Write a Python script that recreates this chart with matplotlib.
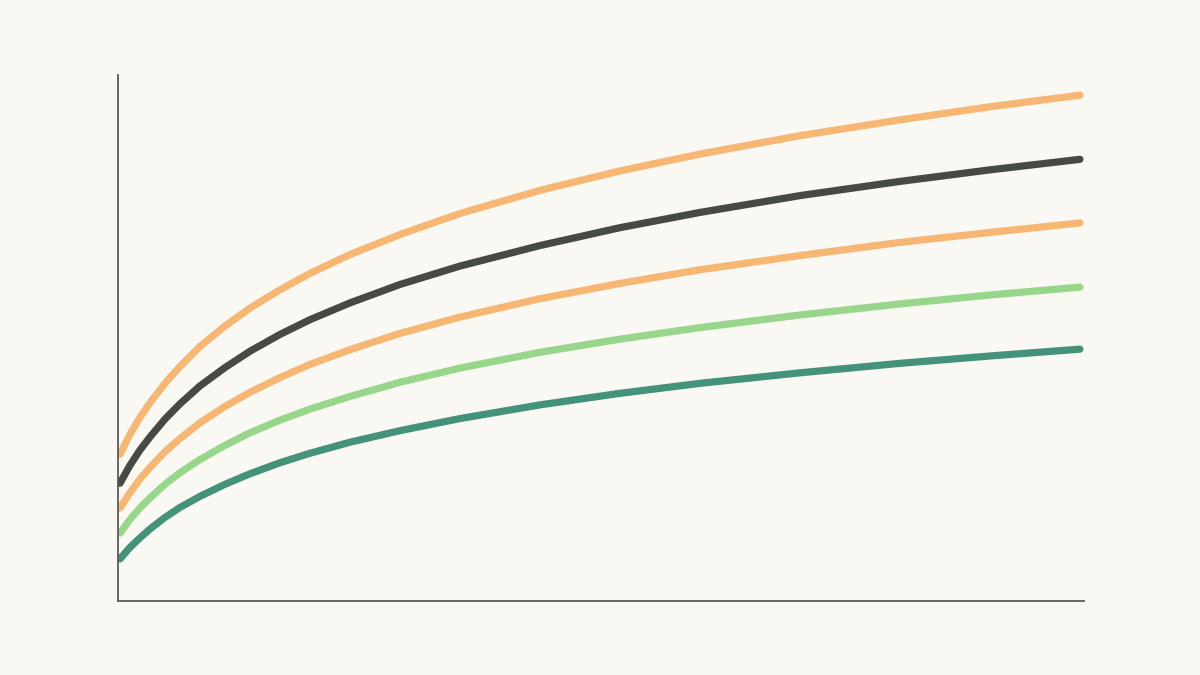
import matplotlib
matplotlib.use("Agg")
import matplotlib.pyplot as plt

# values (x from 0 to 100, y from 0 to 100)
x = [0, 1.04, 2.08, 3.13, 4.69, 6.25, 8.33, 10.94, 13.54, 16.67, 19.79,
     23.96, 29.17, 35.42, 43.75, 52.08, 60.42, 70.83, 81.25, 90.63, 100]
orange_top = [27.9, 31.7, 34.9, 37.7, 41.4, 44.6, 48.4, 52.3, 55.7, 59.2, 62.3,
              65.9, 69.7, 73.7, 78.1, 81.8, 85.0, 88.5, 91.5, 94.0, 96.2]
dark = [22.4, 25.8, 28.7, 31.2, 34.6, 37.5, 40.9, 44.4, 47.5, 50.7, 53.5,
        56.7, 60.2, 63.7, 67.6, 71.0, 73.9, 77.1, 79.8, 82.0, 84.0]
orange_mid = [17.7, 20.6, 23.2, 25.4, 28.4, 30.9, 33.9, 37.0, 39.7, 42.5, 45.0,
              47.8, 50.9, 54.0, 57.5, 60.4, 63.0, 65.7, 68.2, 70.1, 71.9]
green_light = [12.9, 15.5, 17.7, 19.6, 22.2, 24.4, 26.9, 29.6, 32.0, 34.4, 36.5,
               38.9, 41.6, 44.3, 47.3, 49.8, 52.0, 54.4, 56.5, 58.2, 59.7]
green_dark = [8.0, 10.2, 12.0, 13.7, 15.9, 17.8, 19.9, 22.2, 24.2, 26.3, 28.1,
              30.2, 32.4, 34.7, 37.3, 39.5, 41.4, 43.4, 45.2, 46.6, 47.9]

series = [
    (orange_top, "#f7b774"),
    (dark, "#464944"),
    (orange_mid, "#f7b774"),
    (green_light, "#98d78b"),
    (green_dark, "#45927a"),
]

bg = "#f9f8f3"
fig = plt.figure(figsize=(12, 6.75), dpi=100, facecolor=bg)
ax = fig.add_axes([0.0983, 0.1096, 0.805, 0.779], facecolor=bg)

for ys, col in series:
    ax.plot(x, ys, color=col, lw=5.2, solid_capstyle="round", solid_joinstyle="round")

ax.set_xlim(-0.21, 100.42)
ax.set_ylim(0, 100)
ax.set_xticks([])
ax.set_yticks([])
for side in ["top", "right"]:
    ax.spines[side].set_visible(False)
for side in ["left", "bottom"]:
    ax.spines[side].set_color("#5a5a57")
    ax.spines[side].set_linewidth(1.3)

fig.savefig("out.png", dpi=100, facecolor=bg)
